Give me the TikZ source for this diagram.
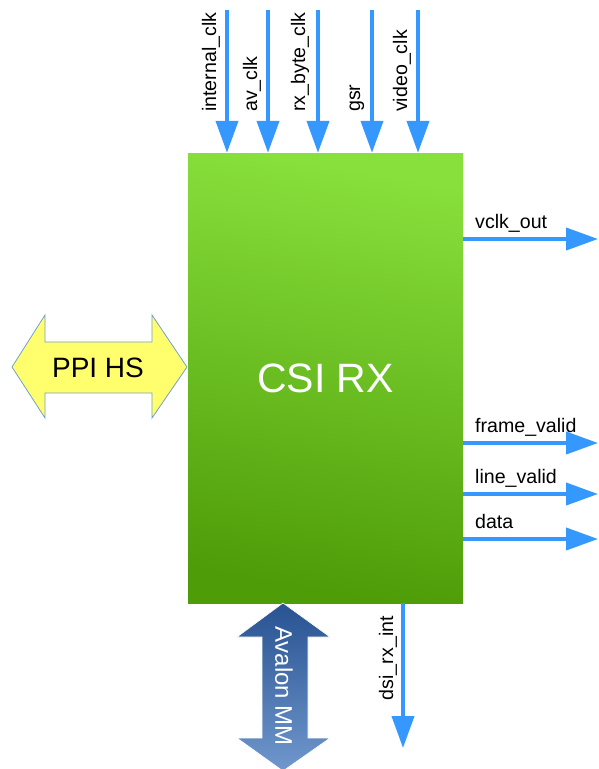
\documentclass[tikz,border=0pt]{standalone}
\usepackage{fontspec}
\setmainfont{Liberation Sans}
\usetikzlibrary{arrows.meta}
\definecolor{sigblue}{RGB}{52,152,255}
\definecolor{gtop}{RGB}{136,224,60}
\definecolor{gbot}{RGB}{78,156,8}
\definecolor{ppiyel}{RGB}{255,255,110}
\definecolor{ppiedge}{RGB}{114,159,207}
\definecolor{avtop}{RGB}{40,82,145}
\definecolor{avbot}{RGB}{112,152,205}
\tikzset{
  sig/.style={draw=sigblue, line width=4pt, -{Triangle[width=22pt,length=32pt]}},
  lbl/.style={inner sep=0pt, font=\fontsize{19.6}{22}\selectfont},
  vlbl/.style={lbl, rotate=90},
}
\begin{document}
\begin{tikzpicture}[x=1pt,y=-1pt]
\useasboundingbox (0,0) rectangle (599,769);
% main block
\shade[top color=gtop, bottom color=gbot, shading angle=-10] (188,153) rectangle (463,603);
\node[minimum width=275pt, minimum height=450pt, inner sep=0pt, text=white,
      font=\fontsize{41}{48}\selectfont] (csi) at (325.5,378) {CSI RX};
% top clock inputs
\foreach \n/\x/\lx/\t in {ic/227/211/internal\_clk, av/268/252/av\_clk, rb/318/300/rx\_byte\_clk, gs/372/357/gsr, vc/418/402/video\_clk}{
  \coordinate (\n) at (\x,10);
  \draw[sig] (\n) -- (\n |- csi.north);
  \node[vlbl, anchor=west] (l\n) at (\lx,112) {\t};
}
% right outputs
\foreach \n/\y/\t in {vo/239/vclk\_out, fv/443/frame\_valid, lv/494/line\_valid, dt/539/data}{
  \coordinate (\n) at (598,\y);
  \draw[sig] (\n -| csi.east) -- (\n);
  \node[lbl, anchor=base west] (l\n) at (475,\y-11) {\t};
}
% bottom interrupt
\coordinate (di) at (403,748);
\draw[sig] (di |- csi.south) -- (di);
\node[vlbl, anchor=east] (ldi) at (388,616) {dsi\_rx\_int};
% PPI HS double arrow
\path[fill=ppiyel, draw=ppiedge, line width=0.8pt]
  (12,367) -- (45,315) -- (45,342) -- (152,342) -- (152,315) -- (187,367)
  -- (152,418) -- (152,393) -- (45,393) -- (45,418) -- cycle;
\node[font=\fontsize{28}{32}\selectfont, inner sep=0pt] (ppi) at (98,368) {PPI HS};
% Avalon MM double arrow
\shade[top color=avtop, bottom color=avbot, draw=white, line width=0.6pt]
  (283,603) -- (330,637) -- (308,637) -- (308,738) -- (330,738) -- (283,771)
  -- (237,738) -- (262,738) -- (262,637) -- (237,637) -- cycle;
\node[rotate=-90, text=white, font=\fontsize{24}{28}\selectfont, inner sep=0pt] (avmm) at (284,686) {Avalon MM};
\end{tikzpicture}
\end{document}
